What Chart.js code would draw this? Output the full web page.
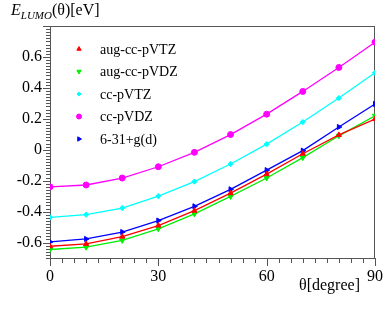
<!DOCTYPE html>
<html>
<head>
<meta charset="utf-8">
<script src="https://cdn.jsdelivr.net/npm/chart.js@4.4.0/dist/chart.umd.min.js"></script>
<style>
  html, body { margin: 0; padding: 0; background: #fff; }
  #wrap { position: relative; width: 392px; height: 310px; }
  .axis-title { position: absolute; font-family: 'Liberation Serif', serif; font-size: 16px; line-height: 16px; color: #000; white-space: nowrap; }
  .axis-title sub { font-size: 11px; vertical-align: -4px; line-height: 0; }
</style>
</head>
<body>
<div id="wrap">
  <canvas id="chart" width="392" height="310"></canvas>
  <div class="axis-title" id="y-title" style="left:11px; top:2px;"><i>E</i><sub><i>LUMO</i></sub>(θ)[eV]</div>
  <div class="axis-title" id="x-title" style="left:299px; top:277px;">θ[degree]</div>
</div>
<script>
const theta = [0, 10, 20, 30, 40, 50, 60, 70, 80, 90];
const augVTZ = [-0.624, -0.609, -0.562, -0.49, -0.394, -0.281, -0.158, -0.026, 0.096, 0.198];
const augVDZ = [-0.645, -0.63, -0.586, -0.511, -0.415, -0.302, -0.183, -0.051, 0.09, 0.22];
const ccVTZ = [-0.437, -0.42, -0.377, -0.3, -0.206, -0.092, 0.036, 0.179, 0.334, 0.498];
const ccVDZ = [-0.24, -0.228, -0.183, -0.11, -0.017, 0.098, 0.23, 0.377, 0.532, 0.695];
const popleD = [-0.596, -0.577, -0.532, -0.458, -0.366, -0.256, -0.132, -0.006, 0.147, 0.296];

const xTickValues = [0, 30, 60, 90];
const yTickValues = [-0.6, -0.4, -0.2, 0, 0.2, 0.4, 0.6];

const frameColor = '#555';
const serif = "'Liberation Serif', serif";

function series(label, values, color, pointStyle, rotation, radius) {
  return {
    label: label,
    data: theta.map((t, i) => ({ x: t, y: values[i] })),
    borderColor: color,
    backgroundColor: color,
    borderWidth: 1.3,
    pointStyle: pointStyle,
    rotation: rotation,
    pointRadius: radius,
    pointBorderWidth: 1,
    tension: 0,
  };
}

const datasets = [
  series('aug-cc-pVTZ', augVTZ, '#ff0000', 'triangle', 0, 3),
  series('aug-cc-pVDZ', augVDZ, '#00f000', 'triangle', 180, 3),
  series('cc-pVTZ', ccVTZ, '#00ffff', 'rectRot', 0, 2.6),
  series('cc-pVDZ', ccVDZ, '#ff00ff', 'circle', 0, 3),
  series('6-31+g(d)', popleD, '#0000ff', 'triangle', 90, 3),
];

// frame around the plot plus major/minor tick marks
const framePlugin = {
  id: 'frame',
  beforeDatasetsDraw(chart) {
    const { ctx, chartArea: a, scales } = chart;
    ctx.save();
    ctx.strokeStyle = frameColor;
    ctx.lineWidth = 1;
    ctx.strokeRect(a.left + 0.5, a.top + 0.5, a.right - a.left - 1, a.bottom - a.top);

    // y ticks: every 0.02, long ones at labelled values
    for (let k = -35; k <= 40; k++) {
      const v = k * 0.02;
      const py = Math.round(scales.y.getPixelForValue(v)) + 0.5;
      const major = k % 10 === 0;
      ctx.beginPath();
      ctx.moveTo(a.left, py);
      ctx.lineTo(a.left - (major ? 7 : 4), py);
      ctx.stroke();
    }
    // x ticks: 9 per 30 degrees
    for (let k = 0; k <= 27; k++) {
      const v = k * 10 / 3;
      const px = Math.round(scales.x.getPixelForValue(v)) + 0.5;
      const major = k % 9 === 0;
      ctx.beginPath();
      ctx.moveTo(px, a.bottom);
      ctx.lineTo(px, a.bottom + (major ? 8 : 5));
      ctx.stroke();
    }
    ctx.restore();
  },
};

// legend drawn inside the plot, top-left
const legendPlugin = {
  id: 'insideLegend',
  afterDatasetsDraw(chart) {
    const { ctx } = chart;
    ctx.save();
    ctx.font = '14px ' + serif;
    ctx.textBaseline = 'middle';
    chart.data.datasets.forEach((ds, i) => {
      const y = 49 + i * 22.5;
      ctx.fillStyle = ds.backgroundColor;
      ctx.strokeStyle = ds.borderColor;
      ctx.lineWidth = 1;
      Chart.helpers.drawPoint(ctx, {
        pointStyle: ds.pointStyle,
        rotation: ds.rotation,
        radius: ds.pointRadius - 0.5,
        borderWidth: 1,
      }, 79, y);
      ctx.fillStyle = '#000';
      ctx.fillText(ds.label, 100, y + 1);
    });
    ctx.restore();
  },
};

new Chart(document.getElementById('chart'), {
  type: 'line',
  data: { datasets: datasets },
  options: {
    responsive: false,
    animation: false,
    layout: { padding: { top: 26, right: 9, left: 0, bottom: 0 } },
    plugins: {
      legend: { display: false },
      tooltip: { enabled: false },
    },
    scales: {
      x: {
        type: 'linear',
        min: 0,
        max: 90,
        afterFit(scale) { scale.height = 52; },
        afterBuildTicks(scale) { scale.ticks = xTickValues.map((v) => ({ value: v })); },
        grid: { display: false, drawTicks: false },
        border: { display: false },
        ticks: {
          padding: 9,
          color: '#000',
          font: { family: serif, size: 16 },
          maxRotation: 0,
        },
      },
      y: {
        type: 'linear',
        min: -0.7,
        max: 0.8,
        afterFit(scale) { scale.width = 50; },
        afterBuildTicks(scale) { scale.ticks = yTickValues.map((v) => ({ value: v })); },
        grid: { display: false, drawTicks: false },
        border: { display: false },
        ticks: {
          padding: 8,
          color: '#000',
          font: { family: serif, size: 16 },
          callback: (v) => (Math.abs(v) < 1e-9 ? '0' : v.toFixed(1)),
        },
      },
    },
  },
  plugins: [framePlugin, legendPlugin],
});
</script>
</body>
</html>
